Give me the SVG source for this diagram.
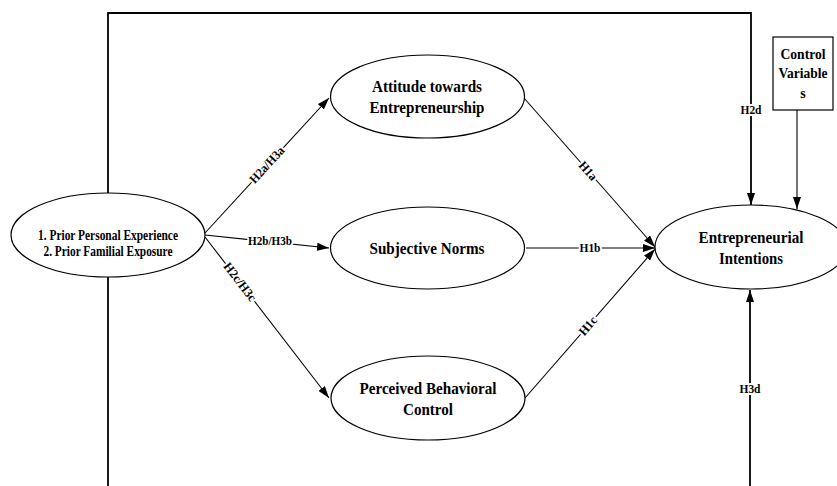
<svg xmlns="http://www.w3.org/2000/svg" width="837" height="486" viewBox="0 0 837 486">
<defs>
<marker id="arr" markerWidth="12" markerHeight="8" refX="12" refY="4" orient="auto" markerUnits="userSpaceOnUse">
<path d="M0,0 L12,4 L0,8 Z" fill="#000"/>
</marker>
<style>
.node ellipse, .node rect { fill: #fff; stroke: #000; stroke-width: 1.2; }
.t { font-family: "Liberation Serif", "Times New Roman", serif; font-weight: bold; fill: #000; text-anchor: middle; }
.big { font-size: 17.5px; }
.mid { font-size: 14px; }
.lbl { font-size: 12.5px; paint-order: stroke; stroke: #fff; stroke-width: 4px; stroke-linejoin: round; }
.c { fill: none; stroke: #000; stroke-width: 1.1; }
.thick { stroke-width: 1.8; }
</style>
</defs>
<rect width="837" height="486" fill="#fff"/>
<g id="connectors">
<polyline class="c thick" points="108,193 108,13 751,13 751,205" marker-end="url(#arr)"/>
<line class="c thick" x1="108" y1="277" x2="108" y2="490"/>
<line class="c thick" x1="750" y1="490" x2="750" y2="290" marker-end="url(#arr)"/>
<line class="c" x1="797" y1="110" x2="797" y2="209" marker-end="url(#arr)"/>
<line class="c" x1="205" y1="233" x2="329" y2="98" marker-end="url(#arr)"/>
<line class="c" x1="205" y1="235" x2="329" y2="248" marker-end="url(#arr)"/>
<line class="c" x1="205" y1="237" x2="329" y2="398" marker-end="url(#arr)"/>
<line class="c" x1="524" y1="98" x2="655" y2="247" marker-end="url(#arr)"/>
<line class="c" x1="526" y1="248" x2="655" y2="248" marker-end="url(#arr)"/>
<line class="c" x1="525" y1="398" x2="655" y2="249" marker-end="url(#arr)"/>
<text class="t lbl" x="751" y="114" textLength="21" lengthAdjust="spacingAndGlyphs">H2d</text>
<text class="t lbl" x="750" y="393" textLength="21" lengthAdjust="spacingAndGlyphs">H3d</text>
<text class="t lbl" x="270" y="245" textLength="44" lengthAdjust="spacingAndGlyphs">H2b/H3b</text>
<text class="t lbl" x="590" y="252" textLength="21" lengthAdjust="spacingAndGlyphs">H1b</text>
<text class="t lbl" transform="translate(267,165) rotate(-47.4)" y="4" textLength="45" lengthAdjust="spacingAndGlyphs">H2a/H3a</text>
<text class="t lbl" transform="translate(240,282) rotate(52.4)" y="4" textLength="45" lengthAdjust="spacingAndGlyphs">H2c/H3c</text>
<text class="t lbl" transform="translate(588,171) rotate(49.3)" y="4" textLength="21" lengthAdjust="spacingAndGlyphs">H1a</text>
<text class="t lbl" transform="translate(588,326) rotate(-49.1)" y="4" textLength="21" lengthAdjust="spacingAndGlyphs">H1c</text>
</g>
<g id="node-prior" class="node">
<ellipse cx="108" cy="235" rx="97" ry="42"/>
<text class="t mid" x="108" y="240" textLength="140" lengthAdjust="spacingAndGlyphs">1. Prior Personal Experience</text>
<text class="t mid" x="108" y="256" textLength="129" lengthAdjust="spacingAndGlyphs">2. Prior Familial Exposure</text>
</g>
<g id="node-attitude" class="node">
<ellipse cx="427.5" cy="96.5" rx="97" ry="41.5"/>
<text class="t big" x="427" y="92" textLength="110" lengthAdjust="spacingAndGlyphs">Attitude towards</text>
<text class="t big" x="427" y="113" textLength="115" lengthAdjust="spacingAndGlyphs">Entrepreneurship</text>
</g>
<g id="node-norms" class="node">
<ellipse cx="427.5" cy="248" rx="97" ry="41"/>
<text class="t big" x="427" y="254" textLength="115" lengthAdjust="spacingAndGlyphs">Subjective Norms</text>
</g>
<g id="node-pbc" class="node">
<ellipse cx="428" cy="398" rx="97" ry="42"/>
<text class="t big" x="428" y="394" textLength="137" lengthAdjust="spacingAndGlyphs">Perceived Behavioral</text>
<text class="t big" x="428" y="415" textLength="50" lengthAdjust="spacingAndGlyphs">Control</text>
</g>
<g id="node-intentions" class="node">
<ellipse cx="751" cy="247" rx="96" ry="42"/>
<text class="t big" x="751" y="243" textLength="105" lengthAdjust="spacingAndGlyphs">Entrepreneurial</text>
<text class="t big" x="751" y="264" textLength="64" lengthAdjust="spacingAndGlyphs">Intentions</text>
</g>
<g id="node-control" class="node">
<rect x="773" y="37" width="60" height="73"/>
<text class="t mid" x="803" y="59" textLength="45" lengthAdjust="spacingAndGlyphs">Control</text>
<text class="t mid" x="803" y="78" textLength="49" lengthAdjust="spacingAndGlyphs">Variable</text>
<text class="t mid" x="803" y="98">s</text>
</g>
</svg>
